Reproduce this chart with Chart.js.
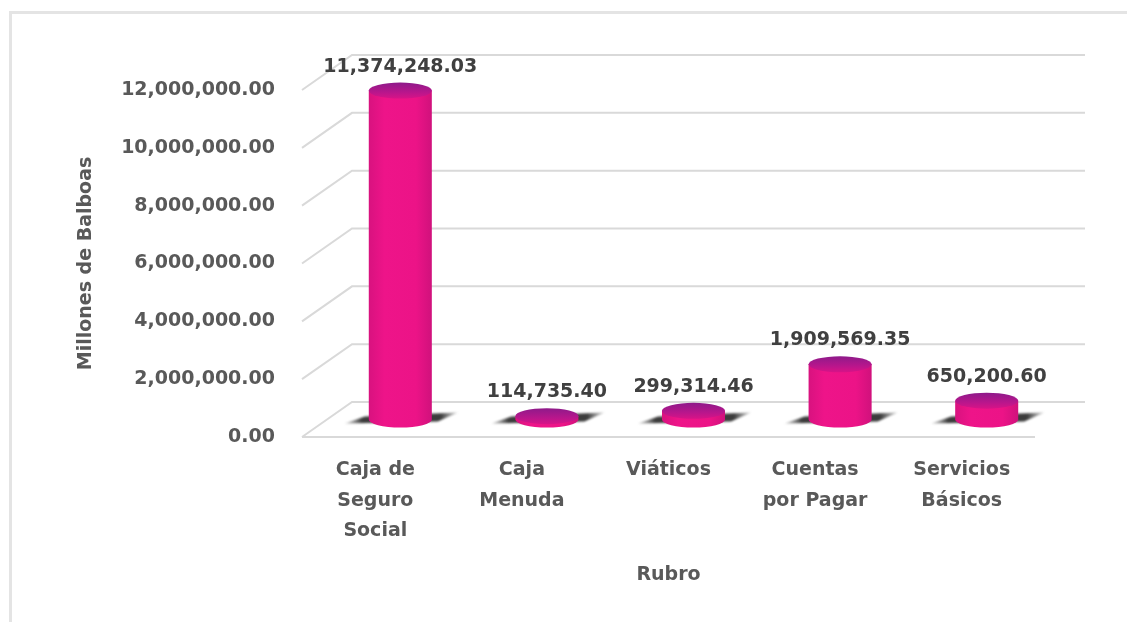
<!DOCTYPE html>
<html>
<head>
<meta charset="utf-8">
<script src="https://cdn.jsdelivr.net/npm/chart.js@4.4.1/dist/chart.umd.min.js"></script>
<style>
  html, body { margin: 0; padding: 0; background: #ffffff; overflow: hidden; }
  #wrap { position: relative; width: 1127px; height: 622px; overflow: hidden; }
  #frame { position: absolute; left: 9px; top: 11px; width: 1300px; height: 700px;
           border-top: 3px solid #e4e4e4; border-left: 3px solid #e4e4e4; box-sizing: border-box; }
  canvas { position: absolute; left: 0; top: 0; }
</style>
</head>
<body>
<div id="wrap">
  <div id="frame"></div>
  <canvas id="c" width="1127" height="622"></canvas>
</div>
<script>
// ---- data ----
const categories = [
  ["Caja de", "Seguro", "Social"],
  ["Caja", "Menuda"],
  ["Viáticos"],
  ["Cuentas", "por Pagar"],
  ["Servicios", "Básicos"]
];
const values = [11374248.03, 114735.40, 299314.46, 1909569.35, 650200.60];
const yTicks = [0, 2000000, 4000000, 6000000, 8000000, 10000000, 12000000];
const yTitle = "Millones de Balboas";
const xTitle = "Rubro";

// ---- styles ----
const FONT = '"DejaVu Sans"';
const TEXT = '#595959';
const DEPTH_DX = 50, DEPTH_DY = -35;   // 3D wall offset

const fmt = v => Number(v).toLocaleString('en-US', {minimumFractionDigits: 2, maximumFractionDigits: 2});

const wallPlugin = {
  id: 'wall',
  beforeDatasetsDraw(chart) {
    const {ctx, chartArea: a, scales: {y}} = chart;
    ctx.save();
    ctx.strokeStyle = '#d9d9d9';
    ctx.lineWidth = 2;
    yTicks.forEach(v => {
      const yf = y.getPixelForValue(v);
      ctx.beginPath();
      ctx.moveTo(a.left, yf);
      ctx.lineTo(a.left + DEPTH_DX, yf + DEPTH_DY);
      ctx.lineTo(a.right + DEPTH_DX, yf + DEPTH_DY);
      ctx.stroke();
    });
    ctx.beginPath();
    ctx.moveTo(a.left, a.bottom);
    ctx.lineTo(a.right, a.bottom);
    ctx.stroke();
    ctx.restore();
  }
};

function drawCylinder(ctx, cx, top, base, w) {
  const rx = w / 2, ry = 8;
  // floor shadow
  ctx.save();
  ctx.filter = 'blur(1.2px)';
  const sg = ctx.createLinearGradient(cx - rx - 24, 0, cx + rx + 26, 0);
  sg.addColorStop(0, 'rgba(110,110,110,0.3)');
  sg.addColorStop(0.15, 'rgba(50,50,50,0.95)');
  sg.addColorStop(0.85, 'rgba(50,50,50,0.95)');
  sg.addColorStop(1, 'rgba(110,110,110,0.3)');
  ctx.fillStyle = sg;
  ctx.beginPath();
  ctx.moveTo(cx - rx - 24, base + 4);
  ctx.lineTo(cx - rx - 4, base - 3);
  ctx.lineTo(cx + rx + 26, base - 7);
  ctx.lineTo(cx + rx + 6, base + 2);
  ctx.closePath();
  ctx.fill();
  ctx.restore();

  // body
  ctx.save();
  const g = ctx.createLinearGradient(cx - rx, 0, cx + rx, 0);
  g.addColorStop(0, '#D8127F');
  g.addColorStop(0.25, '#EE1489');
  g.addColorStop(0.75, '#EC1387');
  g.addColorStop(1, '#D0117C');
  ctx.fillStyle = g;
  ctx.beginPath();
  ctx.moveTo(cx - rx, top);
  ctx.lineTo(cx - rx, base);
  ctx.ellipse(cx, base, rx, ry, 0, Math.PI, 0, true);
  ctx.lineTo(cx + rx, top);
  ctx.closePath();
  ctx.fill();

  // top cap
  const tg = ctx.createLinearGradient(0, top - ry, 0, top + ry);
  tg.addColorStop(0, '#8E1A8A');
  tg.addColorStop(0.6, '#B8168C');
  tg.addColorStop(1, '#D81387');
  ctx.fillStyle = tg;
  ctx.beginPath();
  ctx.ellipse(cx, top, rx, ry, 0, 0, Math.PI * 2);
  ctx.fill();
  ctx.restore();
}

const cylPlugin = {
  id: 'cyl',
  afterDatasetsDraw(chart) {
    const ctx = chart.ctx;
    const meta = chart.getDatasetMeta(0);
    meta.data.forEach((el) => {
      const p = el.getProps(['x', 'y', 'base', 'width'], true);
      drawCylinder(ctx, p.x + DEPTH_DX / 2, p.y + DEPTH_DY / 2, p.base + DEPTH_DY / 2, p.width);
    });
    ctx.save();
    ctx.font = 'bold 19px ' + FONT;
    ctx.fillStyle = '#404040';
    ctx.textAlign = 'center';
    ctx.textBaseline = 'middle';
    meta.data.forEach((el, i) => {
      const p = el.getProps(['x', 'y'], true);
      ctx.fillText(fmt(values[i]), p.x + DEPTH_DX / 2, p.y + DEPTH_DY / 2 - 24);
    });
    ctx.restore();
  }
};

new Chart(document.getElementById('c'), {
  type: 'bar',
  data: {
    labels: categories,
    datasets: [{
      data: values,
      backgroundColor: 'rgba(0,0,0,0)',
      borderWidth: 0,
      barPercentage: 0.43,
      categoryPercentage: 1.0
    }]
  },
  options: {
    responsive: false,
    animation: false,
    devicePixelRatio: 1,
    layout: { padding: { top: 90, right: 92, left: 0, bottom: 0 } },
    plugins: { legend: { display: false }, tooltip: { enabled: false } },
    scales: {
      x: {
        grid: { display: false, drawTicks: false },
        border: { display: false },
        ticks: {
          color: TEXT, padding: 18, maxRotation: 0, autoSkip: false,
          font: { family: FONT, size: 19, weight: 'bold', lineHeight: 1.6 }
        },
        title: {
          display: true, text: xTitle, color: TEXT,
          font: { family: FONT, size: 19, weight: 'bold', lineHeight: 1.2 },
          padding: { top: 0, bottom: 36 }
        },
        afterFit(scale) { scale.height = 185; }
      },
      y: {
        min: 0, max: 12000000,
        grid: { display: false, drawTicks: false },
        border: { display: false },
        afterBuildTicks(scale) { scale.ticks = yTicks.map(v => ({ value: v })); },
        ticks: {
          color: TEXT, padding: 27,
          font: { family: FONT, size: 19, weight: 'bold' },
          callback: v => fmt(v)
        },
        title: {
          display: true, text: yTitle, color: TEXT,
          font: { family: FONT, size: 19, weight: 'bold', lineHeight: 1.2 },
          padding: { top: 75, bottom: 0 }
        },
        afterFit(scale) { scale.width = 302; }
      }
    }
  },
  plugins: [wallPlugin, cylPlugin]
});
</script>
</body>
</html>
